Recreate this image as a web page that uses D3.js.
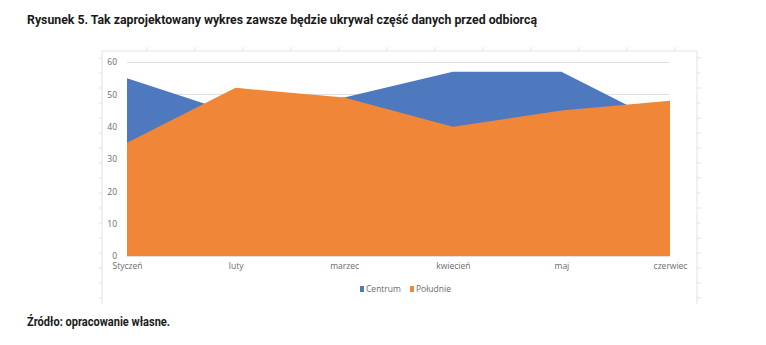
<!DOCTYPE html>
<html>
<head>
<meta charset="utf-8">
<script src="https://cdn.jsdelivr.net/npm/d3@7"></script>
<style>
  html, body { margin: 0; padding: 0; background: #fff; }
  svg { display: block; }
</style>
</head>
<body>
<svg id="chart" width="766" height="345"></svg>
<script>
// Months shown along the category axis
const months = ["Styczeń", "luty", "marzec", "kwiecień", "maj", "czerwiec"];
// Series values (drawn in this order: Centrum first, Południe on top)
const centrum = [55, 44, 49, 57, 57, 40];
const poludnie = [35, 52, 49, 40, 45, 48];
const seriesNames = ["Centrum", "Południe"];
const seriesColors = ["#4e79bf", "#ef8638"];
// Value axis ticks
const yTicks = [0, 10, 20, 30, 40, 50, 60];

const svg = d3.select("#chart");
const fontUI = "'Open Sans', 'DejaVu Sans', sans-serif";
const fontTitle = "'Liberation Sans Narrow', 'Roboto', 'Noto Sans', sans-serif";

// Title
svg.append("text")
  .attr("x", 27).attr("y", 24)
  .attr("font-family", fontTitle).attr("font-weight", "bold")
  .attr("font-size", 13).attr("fill", "#1a1a1a")
  .attr("textLength", 510).attr("lengthAdjust", "spacingAndGlyphs")
  .text("Rysunek 5. Tak zaprojektowany wykres zawsze będzie ukrywał część danych przed odbiorcą");

// Chart frame with small outer ticks
const frame = { x0: 102, y0: 51, x1: 697, y1: 300 };
const frameColor = "#e3e3e3";
svg.append("path")
  .attr("d", `M${frame.x0},${frame.y1 + 4}V${frame.y0}H${frame.x1}V${frame.y1 + 4}`)
  .attr("fill", "none").attr("stroke", frameColor).attr("stroke-width", 1);
const frameTicks = svg.append("g").attr("stroke", frameColor).attr("stroke-width", 1);
d3.range(frame.x0 + 45, frame.x1, 48).forEach(x => {
  frameTicks.append("line").attr("x1", x).attr("x2", x).attr("y1", frame.y0 - 4).attr("y2", frame.y0);
});
d3.range(frame.y0 + 7, frame.y1 + 5, 15).forEach(y => {
  frameTicks.append("line").attr("x1", frame.x0 - 3).attr("x2", frame.x0).attr("y1", y).attr("y2", y);
  frameTicks.append("line").attr("x1", frame.x1).attr("x2", frame.x1 + 4).attr("y1", y).attr("y2", y);
});

// Scales
const x = d3.scalePoint().domain(months).range([127, 670]);
const y = d3.scaleLinear().domain([0, 60]).range([256, 62]);

// Horizontal gridlines
svg.append("g")
  .selectAll("line").data(yTicks).join("line")
  .attr("x1", x.range()[0]).attr("x2", x.range()[1])
  .attr("y1", d => Math.round(y(d)) + 0.5).attr("y2", d => Math.round(y(d)) + 0.5)
  .attr("stroke", "#e0e0e0").attr("stroke-width", 1);

// Areas
const area = d3.area()
  .x((d, i) => x(months[i]))
  .y0(y(0))
  .y1(d => y(d));
[centrum, poludnie].forEach((vals, i) => {
  svg.append("path").datum(vals)
    .attr("d", area)
    .attr("fill", seriesColors[i]);
});

// Y axis labels
const yAxis = d3.axisLeft(y).tickValues(yTicks).tickSize(0).tickPadding(0);
const yg = svg.append("g").attr("transform", "translate(117,0)").call(yAxis);
yg.select(".domain").remove();
yg.selectAll("text")
  .attr("font-family", fontUI).attr("font-size", 8.5).attr("fill", "#6b6b6b");

// X axis labels
const xAxis = d3.axisBottom(x).tickSize(0).tickPadding(0);
const xg = svg.append("g").attr("transform", "translate(0,263)").call(xAxis);
xg.select(".domain").remove();
xg.selectAll("text")
  .attr("font-family", fontUI).attr("font-size", 8.5).attr("fill", "#6b6b6b");

// Legend
const legend = svg.append("g").attr("transform", "translate(360,292)");
const legendX = [0, 50];
seriesNames.forEach((name, i) => {
  const g = legend.append("g").attr("transform", `translate(${legendX[i]},0)`);
  g.append("rect").attr("x", 0).attr("y", -6).attr("width", 4).attr("height", 6)
    .attr("fill", seriesColors[i]);
  g.append("text").attr("x", 6).attr("y", 0)
    .attr("font-family", fontUI).attr("font-size", 8.5).attr("fill", "#6b6b6b")
    .text(name);
});

// Source note
svg.append("text")
  .attr("x", 27).attr("y", 326)
  .attr("font-family", fontTitle).attr("font-weight", "bold")
  .attr("font-size", 12).attr("fill", "#1a1a1a")
  .attr("textLength", 143).attr("lengthAdjust", "spacingAndGlyphs")
  .text("Źródło: opracowanie własne.");
</script>
</body>
</html>
